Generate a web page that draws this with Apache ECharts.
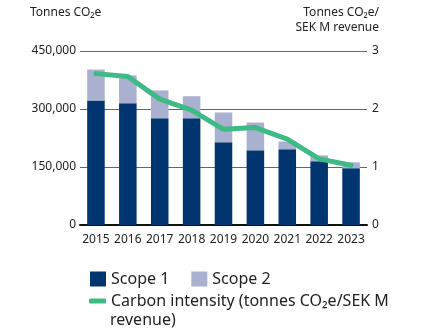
<!DOCTYPE html>
<html>
<head>
<meta charset="utf-8">
<script src="https://cdn.jsdelivr.net/npm/echarts@6/dist/echarts.min.js"></script>
<style>html,body{margin:0;padding:0;background:#fff}#c{width:444px;height:331px}</style>
</head>
<body>
<div id="c"></div>
<script>
const years = ['2015','2016','2017','2018','2019','2020','2021','2022','2023'];
const scope1 = [322000, 315000, 276000, 276000, 214000, 193000, 196000, 165000, 147000];
const scope2 = [80000, 72000, 72000, 57000, 77000, 72000, 20000, 15000, 15000];
const intensity = [2.61, 2.56, 2.17, 1.98, 1.65, 1.68, 1.48, 1.14, 1.03];
const leftTicks = [0, 150000, 300000, 450000];
const rightTicks = [0, 1, 2, 3];

const FONT = 'Noto Sans';
const chart = echarts.init(document.getElementById('c'), null, {renderer: 'canvas'});
chart.setOption({
  animation: false,
  textStyle: {fontFamily: FONT},
  grid: {left: 80, right: 77, top: 51, bottom: 106, containLabel: false},
  xAxis: {
    type: 'category', data: years,
    axisLine: {lineStyle: {color: '#111', width: 2}},
    axisTick: {show: false},
    axisLabel: {color: '#222', fontSize: 12, fontFamily: FONT, margin: 9, interval: 0}
  },
  yAxis: [{
    type: 'value', min: leftTicks[0], max: leftTicks[leftTicks.length-1], interval: 150000,
    axisLine: {show: false}, axisTick: {show: false},
    splitLine: {lineStyle: {color: '#666', width: 1}},
    axisLabel: {color: '#222', fontSize: 12, fontFamily: FONT, margin: 4,
      formatter: v => v.toLocaleString('en-US')}
  }, {
    type: 'value', min: rightTicks[0], max: rightTicks[rightTicks.length-1], interval: 1,
    axisLine: {show: false}, axisTick: {show: false}, splitLine: {show: false},
    axisLabel: {color: '#222', fontSize: 12, fontFamily: FONT, margin: 5}
  }],
  legend: [{
    left: 85, top: 266, itemWidth: 16, itemHeight: 15, itemGap: 22,
    icon: 'rect',
    textStyle: {fontSize: 16, color: '#222', fontFamily: FONT},
    data: ['Scope 1', 'Scope 2']
  }, {
    left: 84, top: 288, itemWidth: 17, itemHeight: 5,
    icon: 'roundRect',
    textStyle: {fontSize: 16, color: '#222', fontFamily: FONT},
    data: ['Carbon intensity (tonnes CO₂e/SEK M revenue)'],
    formatter: () => 'Carbon intensity (tonnes CO₂e/SEK M'
  }],
  graphic: [
    {type: 'text', left: 30, top: 7, style: {text: 'Tonnes CO₂e', font: '12px "Noto Sans"', fill: '#222'}},
    {type: 'text', right: 65, top: 7, style: {text: 'Tonnes CO₂e/', font: '12px "Noto Sans"', fill: '#222', align: 'right'}},
    {type: 'text', right: 65, top: 22, style: {text: 'SEK M revenue', font: '12px "Noto Sans"', fill: '#222', align: 'right'}},
    {type: 'text', left: 110, top: 312, style: {text: 'revenue)', font: '16px "Noto Sans"', fill: '#222'}}
  ],
  series: [{
    name: 'Scope 1', type: 'bar', stack: 'total', data: scope1, barWidth: '55%',
    itemStyle: {color: '#00356f'}
  }, {
    name: 'Scope 2', type: 'bar', stack: 'total', data: scope2,
    itemStyle: {color: '#aab0cf'}
  }, {
    name: 'Carbon intensity (tonnes CO₂e/SEK M revenue)', type: 'line', yAxisIndex: 1,
    data: intensity, symbol: 'none', lineStyle: {color: '#3dba85', width: 5, cap: 'round', join: 'round'},
    itemStyle: {color: '#3dba85'}, z: 5
  }]
});
</script>
</body>
</html>
